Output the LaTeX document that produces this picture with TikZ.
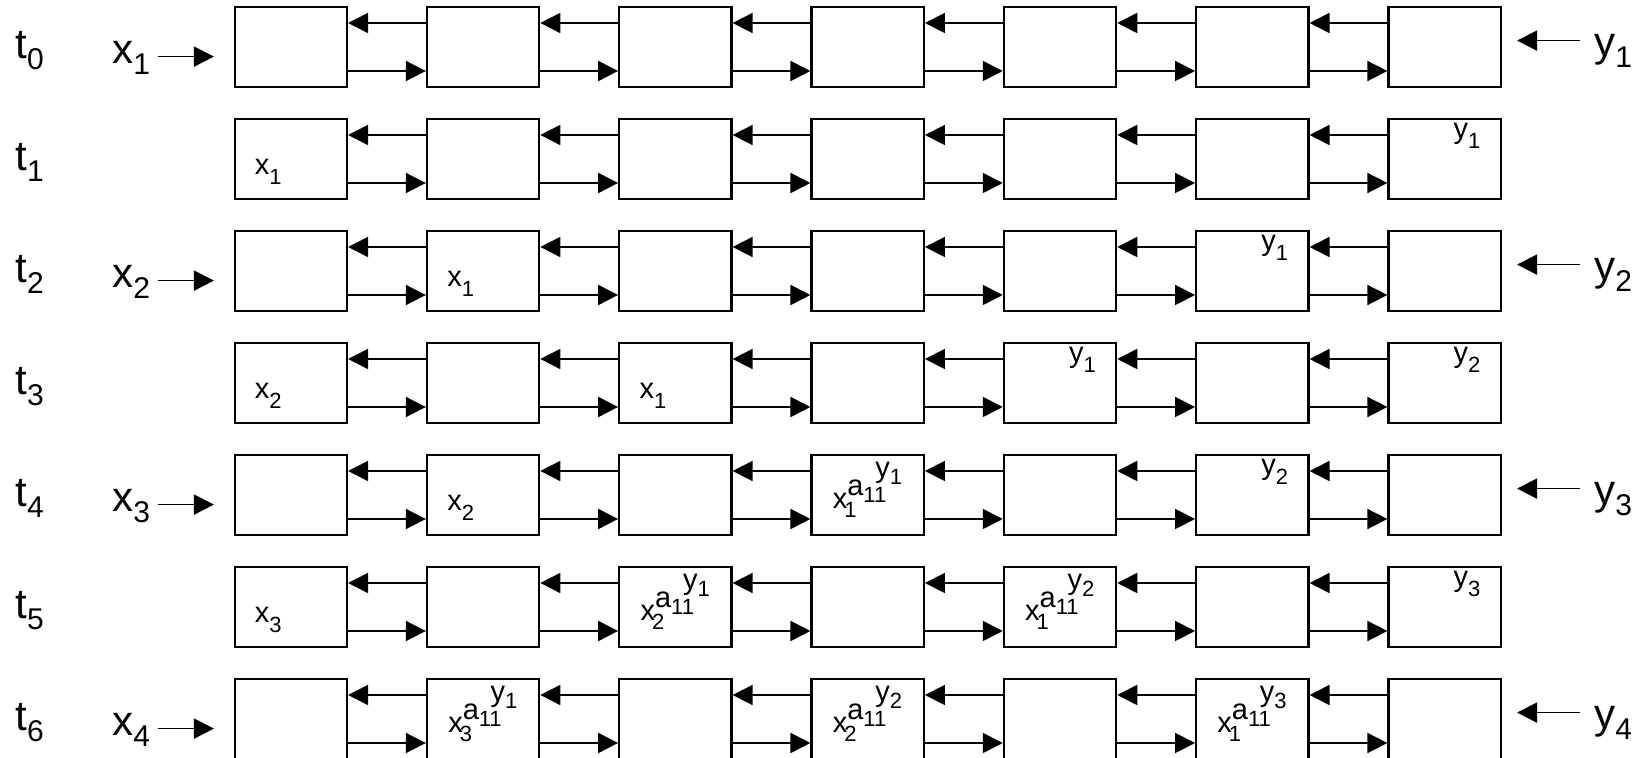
\documentclass[tikz,border=0pt]{standalone}
\usepackage{fontspec}
\setmainfont{Liberation Sans}
\usetikzlibrary{arrows.meta,positioning,calc}
\newcommand{\bigsub}[2]{#1\raisebox{-5.5pt}{\fontsize{15}{17}\selectfont #2}}
\newcommand{\smallsub}[2]{#1\raisebox{-5pt}{\fontsize{11}{13}\selectfont #2}}
\newcommand{\tower}[2]{x\kern-1.5pt\rlap{\raisebox{-4.2pt}{\fontsize{11}{13}\selectfont #1}}\kern1.5pt%
  \raisebox{6.8pt}{a\raisebox{-3.5pt}{\fontsize{11}{13}\selectfont 11}\kern-5.5pt%
  \raisebox{9pt}{y\raisebox{-3.5pt}{\fontsize{11}{13}\selectfont #2}}}}
\tikzset{
  cellbox/.style={rectangle, draw=black, line width=1.1pt, minimum width=56.15pt,
                  minimum height=40pt, inner sep=0pt},
  arrow/.style={-{Triangle[length=10pt,width=10pt]}, line width=0.9pt, black},
  biglabel/.style={font=\fontsize{21}{24}\selectfont, inner sep=0pt},
  smalllabel/.style={font=\fontsize{14.5}{17}\selectfont, inner sep=0pt},
}

\begin{document}
\begin{tikzpicture}[x=0.5pt, y=-0.5pt]
\useasboundingbox (0,0) rectangle (1651,758);

% one row of cells per time step
\foreach \r in {0,...,6} {
  \foreach \c in {0,...,6}
    \node[cellbox] (cell-\r-\c) at (290.8+192.3*\c, 47+112*\r) {};
  \foreach \c [count=\n from 1] in {0,...,5} {
    \draw[arrow] ([yshift=12pt]cell-\r-\n.west) -- ([yshift=12pt]cell-\r-\c.east);
    \draw[arrow] ([yshift=-12pt]cell-\r-\c.east) -- ([yshift=-12pt]cell-\r-\n.west);
  }
  \node[biglabel, anchor=base west] (t-\r) at (15, 59+112*\r) {\bigsub{t}{\r}};
}

% inputs
\foreach \r/\k in {0/1,2/2,4/3,6/4} {
  \node[biglabel, anchor=base west] (xin-\r) at (112, 63.3+112*\r) {\bigsub{x}{\k}};
  \node[biglabel, anchor=base west] (yin-\r) at (1594, 57+112*\r) {\bigsub{y}{\k}};
  \coordinate (xtip-\r) at ([xshift=-9.8pt, yshift=-4.8pt]cell-\r-0.west);
  \coordinate (ytip-\r) at ([xshift=7.6pt, yshift=3.2pt]cell-\r-6.east);
  \draw[arrow, shorten <=4pt] (xin-\r.east |- xtip-\r) -- (xtip-\r);
  \draw[arrow, shorten <=7pt] (yin-\r.west |- ytip-\r) -- (ytip-\r);
}

% cell contents
\foreach \r/\c/\k in {1/0/1, 2/1/1, 3/0/2, 3/2/1, 4/1/2, 5/0/3}
  \node[smalllabel, anchor=base west] (xs-\r-\c) at ([xshift=10.5pt, yshift=-8pt]cell-\r-\c.west) {\smallsub{x}{\k}};
\foreach \r/\c/\k in {1/6/1, 2/5/1, 3/4/1, 3/6/2, 4/5/2, 5/6/3}
  \node[smalllabel, anchor=base east] (ys-\r-\c) at ([xshift=-10.5pt, yshift=10pt]cell-\r-\c.east) {\smallsub{y}{\k}};
\foreach \r/\c/\i/\j in {4/3/1/1, 5/2/2/1, 5/4/1/2, 6/1/3/1, 6/3/2/2, 6/5/1/3}
  \node[smalllabel, anchor=base west] (pw-\r-\c) at ([xshift=11pt, yshift=-7pt]cell-\r-\c.west) {\tower{\i}{\j}};
\end{tikzpicture}
\end{document}
